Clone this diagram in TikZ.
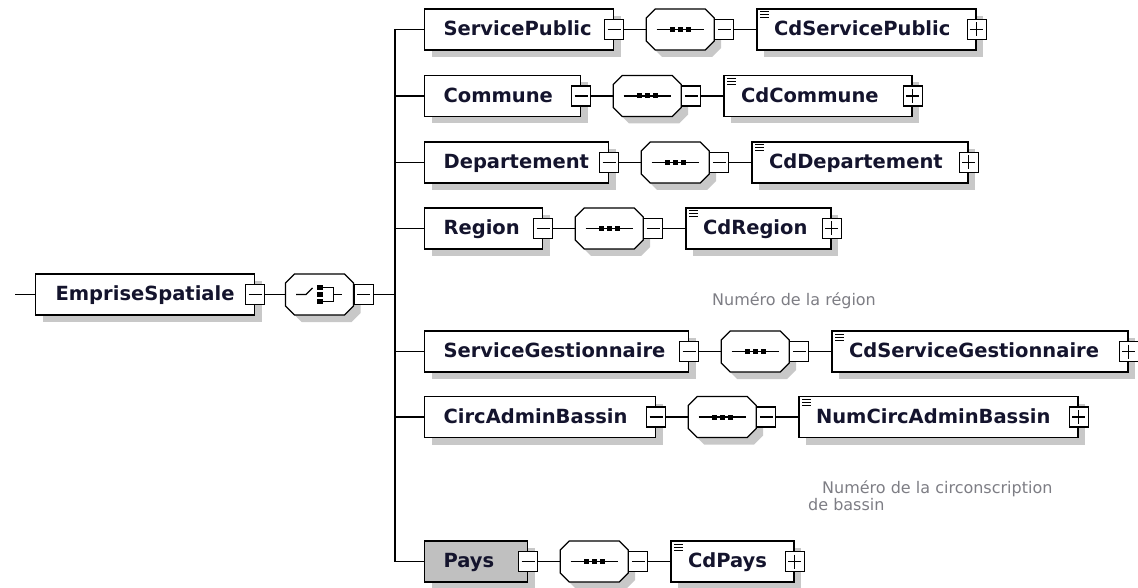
\documentclass[tikz,border=0pt]{standalone}
\usepackage{fontspec}
\setmainfont{DejaVu Sans}
\usetikzlibrary{calc,shadows}
\definecolor{shadowc}{RGB}{200,200,200}
\definecolor{paysgray}{RGB}{192,192,192}
\definecolor{labelc}{RGB}{20,20,45}
\definecolor{notec}{RGB}{125,125,132}
\tikzset{
  conn/.style={draw=black, line width=1.2pt},
  boxbase/.style={draw=black, line width=1.2pt, inner ysep=0pt, minimum height=41pt,
    text height=16pt, text depth=3.5pt, align=left,
    font=\fontsize{19.5}{22}\selectfont\bfseries, text=labelc,
    general shadow={fill=shadowc, shadow xshift=7pt, shadow yshift=-7pt}},
  elem/.style={boxbase, fill=white, inner xsep=19pt},
  childbox/.style={boxbase, fill=white, inner xsep=17pt,
    path picture={\foreach \k in {3,6,9} {\draw[line width=1pt] ([xshift=3pt,yshift=-\k pt]path picture bounding box.north west) -- ++(9pt,0pt);}}},
  btnbase/.style={draw=black, line width=1.2pt, fill=white, minimum width=19pt, minimum height=20pt, inner sep=0pt},
  btnminus/.style={btnbase, path picture={\draw[line width=1.2pt] ([xshift=3pt]path picture bounding box.west) -- ([xshift=-3pt]path picture bounding box.east);}},
  btnplus/.style={btnbase, path picture={\draw[line width=1.2pt] ([xshift=3pt]path picture bounding box.west) -- ([xshift=-3pt]path picture bounding box.east);
      \draw[line width=1.2pt] ([yshift=-3pt]path picture bounding box.north) -- ([yshift=3pt]path picture bounding box.south);}},
  seqn/.style={minimum width=68pt, minimum height=41pt, inner sep=0pt, outer sep=0pt},
  octa/.style={draw=black, line width=1.2pt, fill=white,
    general shadow={fill=shadowc, shadow xshift=7pt, shadow yshift=-7pt}},
  note/.style={font=\fontsize{16}{17}\selectfont, text=notec, inner sep=0pt}
}
\newcommand\octoutline[1]{%
  \draw[octa] ($(#1)+(-25,-20.5)$) -- ($(#1)+(25,-20.5)$) -- ($(#1)+(34,-11.5)$) -- ($(#1)+(34,11.5)$)
    -- ($(#1)+(25,20.5)$) -- ($(#1)+(-25,20.5)$) -- ($(#1)+(-34,11.5)$) -- ($(#1)+(-34,-11.5)$) -- cycle;}
\newcommand\seqoct[1]{%
  \octoutline{#1}
  \draw[conn] ($(#1)+(-23.5,0)$) -- ($(#1)+(23.5,0)$);
  \foreach \d in {-8,0,8} {\fill ($(#1)+(\d-2.5,-2.5)$) rectangle ++(5,5);}
}
\newcommand\xsdrow[7]{%
  \pgfmathsetmacro\xsdEW{#3-424-38}%
  \pgfmathsetmacro\xsdCW{#4-#3-175}%
  \node[elem,#7,anchor=west,text width=\xsdEW pt] (e#1) at (424,#2) {#5};
  \node[btnminus] (m#1) at (e#1.east) {};
  \node[seqn] (o#1) at ([xshift=66pt]e#1.east) {};
  \seqoct{o#1}
  \node[btnminus,anchor=west] (n#1) at (o#1.east) {};
  \node[childbox,anchor=west,text width=\xsdCW pt] (c#1) at ([xshift=22pt]n#1.east) {#6};
  \node[btnplus] (p#1) at (c#1.east) {};
  \draw[conn] (m#1.east) -- (o#1.west);
  \draw[conn] (n#1.east) -- (c#1.west);
  \draw[conn] (e#1.west -| bus) -- (e#1.west);
}
\begin{document}
\begin{tikzpicture}[x=1pt,y=-1pt]
\useasboundingbox (0,0) rectangle (1138,588);
\coordinate (bus) at (395,294.5);
\coordinate (in) at (15,294.5);
% root element
\node[elem, anchor=west, inner xsep=20pt, text width=179pt] (root) at (35,294.5) {EmpriseSpatiale};
\node[btnminus] (m0) at (root.east) {};
\node[seqn] (ch) at (319.5,294.5) {};
\octoutline{ch}
\draw[conn] ($(ch)+(-23.5,0)$) -- ($(ch)+(-13.5,0)$) -- ($(ch)+(-7,-6.5)$);
\foreach \d in {-7,0,7} {\fill ($(ch)+(-2.8,\d-2.5)$) rectangle ++(6,5);}
\draw[conn] ($(ch)+(3.2,-7)$) -- ($(ch)+(13.8,-7)$) -- ($(ch)+(13.8,7)$) -- ($(ch)+(3.2,7)$);
\draw[conn] ($(ch)+(13.8,0)$) -- ($(ch)+(22.2,0)$);
\node[btnminus, anchor=west] (n0) at (ch.east) {};
\draw[conn] (in) -- (root.west);
\draw[conn] (m0.east) -- (ch.west);
\draw[conn] (n0.east) -- (bus);
% branches
\xsdrow{1}{29.5}{613}{973}{ServicePublic}{CdServicePublic}{}
\xsdrow{2}{96}{580}{909}{Commune}{CdCommune}{}
\xsdrow{3}{162.5}{608}{965}{Departement}{CdDepartement}{}
\xsdrow{4}{228.5}{542}{828}{Region}{CdRegion}{}
\xsdrow{5}{351.5}{688}{1125}{ServiceGestionnaire}{CdServiceGestionnaire}{}
\xsdrow{6}{417}{655}{1075}{CircAdminBassin}{NumCircAdminBassin}{}
\xsdrow{7}{561.5}{527}{791}{Pays}{CdPays}{fill=paysgray}
\draw[conn] (e1.west -| bus) -- (e7.west -| bus);
% annotations
\node[note, anchor=base west] (noteRegion) at (712,305) {Numéro de la région};
\node[note, anchor=base west] (noteCirc1) at (822,493) {Numéro de la circonscription};
\node[note, anchor=base west] (noteCirc2) at (808,510) {de bassin};
\end{tikzpicture}
\end{document}
